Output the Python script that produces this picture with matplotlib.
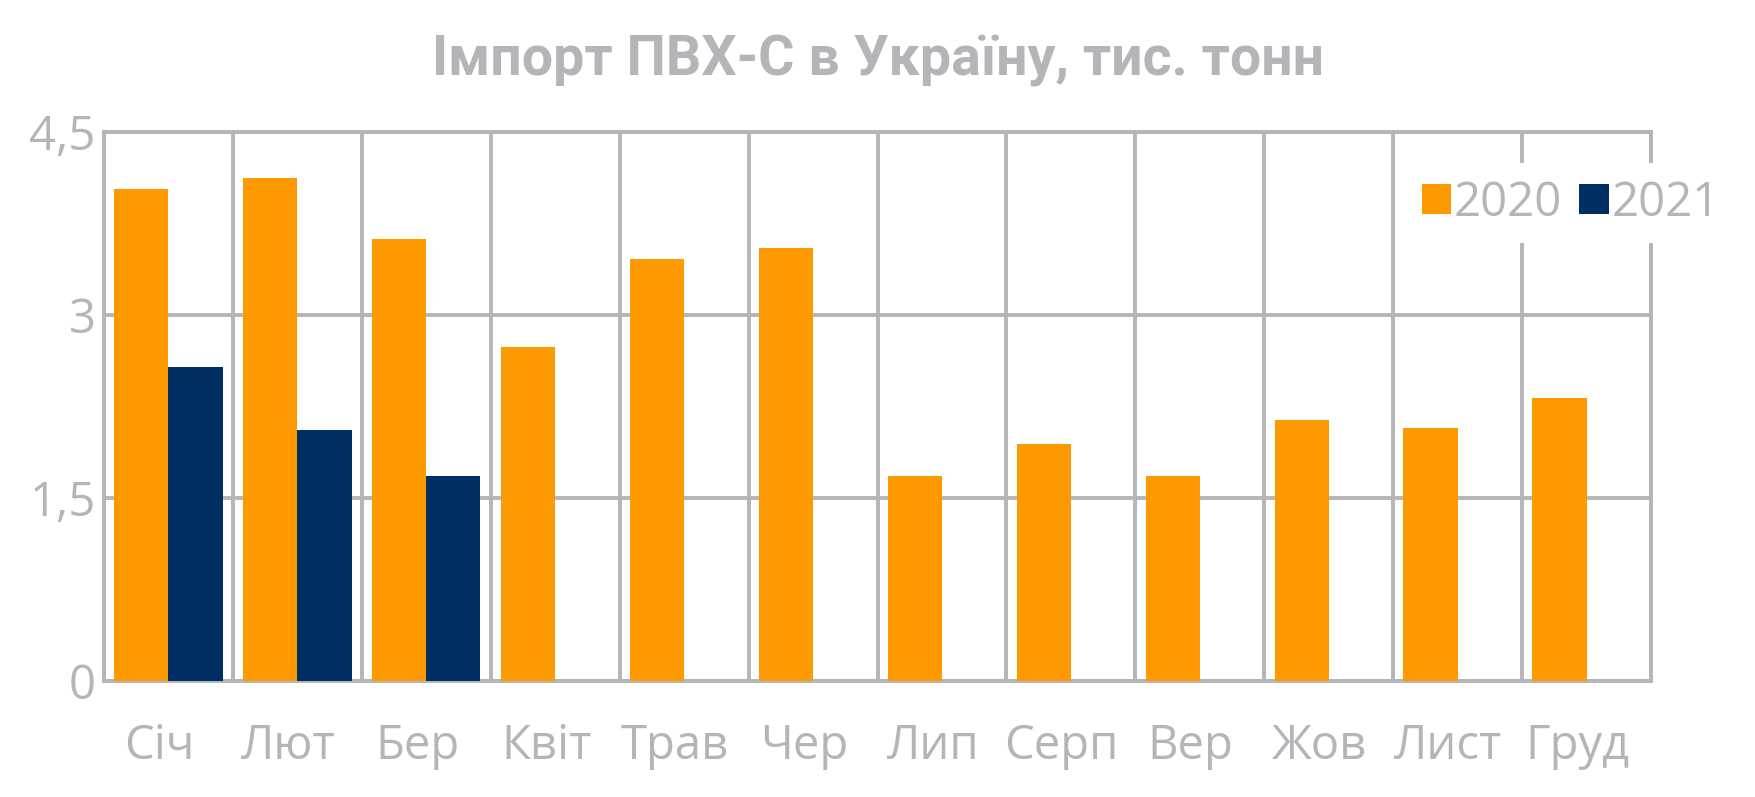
import numpy as np
import matplotlib
matplotlib.use('Agg')
import matplotlib.pyplot as plt

# data
months = ['Січ', 'Лют', 'Бер', 'Квіт', 'Трав', 'Чер', 'Лип', 'Серп', 'Вер', 'Жов', 'Лист', 'Груд']
y2020 = [4.03, 4.12, 3.62, 2.74, 3.46, 3.55, 1.68, 1.94, 1.68, 2.14, 2.07, 2.32]
y2021 = [2.57, 2.06, 1.68]
yticks = [0, 1.5, 3, 4.5]
ytick_labels = ['0', '1,5', '3', '4,5']
title = 'Імпорт ПВХ-С в Україну, тис. тонн'

ORANGE = '#ff9900'
NAVY = '#003063'
GREY = '#b4b5b9'

plt.rcParams['font.family'] = ['Open Sans', 'DejaVu Sans']

fig = plt.figure(figsize=(17.55, 7.97), dpi=100)
ax = fig.add_axes([104/1755, 1-681/797, (1651-104)/1755, (681-132)/797])

w = 0.42
x = np.arange(len(months))
ax.bar(x - w/2, y2020, width=w, color=ORANGE, label='2020', zorder=3)
ax.bar(x[:len(y2021)] + w/2, y2021, width=w, color=NAVY, label='2021', zorder=3)

ax.set_xlim(-0.5, len(months) - 0.5)
ax.set_ylim(0, 4.5)

ax.set_yticks(yticks)
ax.set_yticklabels(ytick_labels)
ax.set_xticks(x - 0.07)
ax.set_xticklabels(months)
ax.set_xticks(np.arange(len(months) + 1) - 0.5, minor=True)

ax.tick_params(axis='both', which='both', length=0, colors=GREY, labelsize=34)
ax.tick_params(axis='y', pad=6)
ax.tick_params(axis='x', pad=30)

ax.grid(True, axis='y', which='major', color=GREY, lw=2.8)
ax.grid(True, axis='x', which='minor', color=GREY, lw=2.8)
ax.grid(False, axis='x', which='major')
ax.set_axisbelow(True)
for s in ax.spines.values():
    s.set_color(GREY)
    s.set_linewidth(2.8)
    s.set_zorder(1)

leg = fig.legend(loc='center left', bbox_to_anchor=(1405/1755, 1-203/797),
                 ncol=2, fontsize=34, frameon=True, facecolor='white',
                 edgecolor='none', framealpha=1, fancybox=False,
                 handlelength=0.62, handleheight=0.62, handletextpad=0.07,
                 columnspacing=0.36, borderpad=0.35, borderaxespad=0)
for t in leg.get_texts():
    t.set_color(GREY)

fig.text(0.5, 1-61/797, title, ha='center', va='center', color=GREY,
         fontsize=40, fontweight='bold', family=['Roboto', 'DejaVu Sans'])

fig.savefig('out.png', dpi=100)
